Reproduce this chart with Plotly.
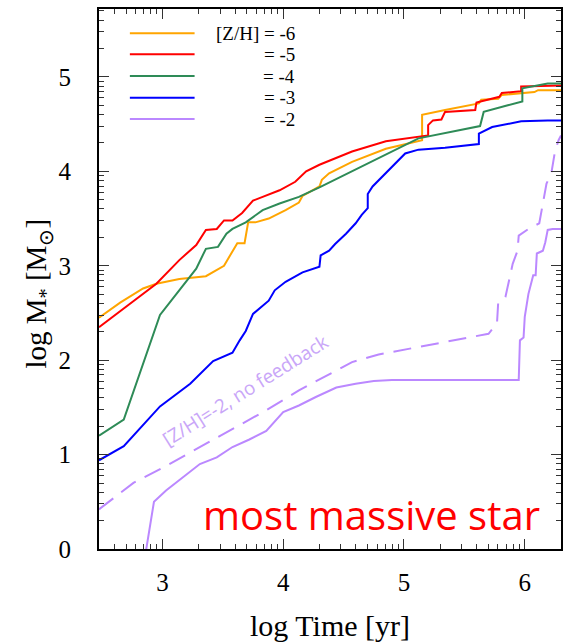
import numpy as np
import plotly.graph_objects as go

# ---------------- data ----------------
labels = ["[Z/H] = -6", "= -5", "= -4", "= -3", "= -2"]
colors = ["#FFA500", "#FF0000", "#2E8B57", "#0000FF", "#BB88FF"]

x_m6 = [2.475, 2.65, 2.84, 2.95, 3.14, 3.36, 3.51, 3.62, 3.68, 3.71, 3.77, 3.88, 4.02, 4.13, 4.16,
        4.30, 4.32, 4.38, 4.57, 4.85, 5.15, 5.15, 5.34, 5.62, 5.64, 5.78, 5.81, 5.97, 6.08, 6.11, 6.30]
y_m6 = [2.45, 2.61, 2.76, 2.81, 2.86, 2.89, 3.00, 3.24, 3.24, 3.46, 3.46, 3.50, 3.59, 3.67, 3.74,
        3.84, 3.91, 3.98, 4.10, 4.24, 4.33, 4.60, 4.65, 4.72, 4.76, 4.77, 4.81, 4.83, 4.84, 4.86, 4.86]

x_m5 = [2.475, 2.95, 3.14, 3.28, 3.36, 3.45, 3.51, 3.58, 3.66, 3.75, 3.83, 3.97, 4.10, 4.19, 4.30,
        4.46, 4.57, 4.85, 5.12, 5.20, 5.20, 5.24, 5.31, 5.34, 5.59, 5.60, 5.79, 5.81, 5.97, 5.97, 6.30]
y_m5 = [2.35, 2.81, 3.06, 3.22, 3.38, 3.39, 3.48, 3.48, 3.56, 3.69, 3.73, 3.80, 3.89, 4.00, 4.07,
        4.15, 4.21, 4.32, 4.37, 4.38, 4.49, 4.54, 4.55, 4.63, 4.65, 4.73, 4.79, 4.83, 4.85, 4.90, 4.91]

x_m4 = [2.475, 2.68, 2.98, 3.28, 3.36, 3.46, 3.53, 3.58, 3.69, 3.83, 3.97, 4.13, 4.30, 4.63, 4.79,
        5.12, 5.63, 5.66, 5.86, 5.98, 5.98, 6.19, 6.30]
y_m4 = [1.20, 1.37, 2.48, 2.97, 3.18, 3.20, 3.34, 3.39, 3.46, 3.59, 3.66, 3.73, 3.83, 4.04, 4.14,
        4.35, 4.48, 4.63, 4.70, 4.74, 4.88, 4.93, 4.93]

x_m3 = [2.475, 2.68, 2.98, 3.23, 3.42, 3.58, 3.64, 3.69, 3.75, 3.88, 3.93, 4.02, 4.16, 4.30, 4.31,
        4.38, 4.43, 4.52, 4.60, 4.65, 4.70, 4.70, 4.74, 4.85, 4.89, 4.96, 5.01, 5.12, 5.34, 5.62,
        5.62, 5.73, 5.97, 6.19, 6.30]
y_m3 = [0.94, 1.09, 1.51, 1.75, 1.99, 2.08, 2.21, 2.31, 2.49, 2.63, 2.74, 2.83, 2.93, 2.99, 3.11,
        3.16, 3.23, 3.34, 3.45, 3.54, 3.61, 3.76, 3.84, 3.98, 4.03, 4.12, 4.19, 4.23, 4.25, 4.29,
        4.40, 4.47, 4.53, 4.54, 4.54]

x_m2 = [2.86, 2.93, 3.03, 3.13, 3.31, 3.45, 3.58, 3.72, 3.86, 4.00, 4.13, 4.27, 4.44, 4.60, 4.75,
        4.90, 5.95, 5.96, 5.99, 6.00, 6.03, 6.07, 6.09, 6.10, 6.15, 6.17, 6.19, 6.23, 6.30]
y_m2 = [-0.05, 0.50, 0.62, 0.72, 0.90, 0.97, 1.08, 1.16, 1.25, 1.45, 1.52, 1.61, 1.71, 1.75, 1.78,
        1.79, 1.79, 2.21, 2.24, 2.46, 2.70, 2.90, 2.90, 3.13, 3.16, 3.25, 3.38, 3.39, 3.39]

x_m2_nofb = [2.475, 2.76, 3.03, 3.31, 3.58, 3.86, 4.13, 4.41, 4.57, 4.79, 5.12, 5.29, 5.70, 5.77,
             5.78, 5.84, 5.90, 5.94, 5.95, 6.03, 6.12, 6.14, 6.18, 6.22, 6.25, 6.28, 6.30]
y_m2_nofb = [0.42, 0.70, 0.88, 1.08, 1.27, 1.47, 1.68, 1.87, 1.98, 2.06, 2.14, 2.18, 2.28, 2.39,
             2.61, 2.67, 3.02, 3.16, 3.32, 3.39, 3.45, 3.59, 3.87, 3.98, 4.21, 4.33, 4.38]

x_major = [3, 4, 5, 6]
x_ticktext = ["3", "4", "5", "6"]
y_major = [0, 1, 2, 3, 4, 5]
y_ticktext = ["0", "1", "2", "3", "4", "5"]

series = [(x_m6, y_m6), (x_m5, y_m5), (x_m4, y_m4), (x_m3, y_m3), (x_m2, y_m2)]

# ---------------- figure ----------------
fig = go.Figure()
for (xs, ys), lab, col in zip(series, labels, colors):
    fig.add_trace(go.Scatter(x=xs, y=ys, mode="lines", name=lab, showlegend=False,
                             line=dict(color=col, width=2)))
fig.add_trace(go.Scatter(x=x_m2_nofb, y=y_m2_nofb, mode="lines", name="[Z/H]=-2, no feedback",
                         showlegend=False, line=dict(color=colors[4], width=2, dash="18px,10px")))

XR = [2.475, 6.3]
YR = [0.0, 5.72]
x_minor = [d + np.log10(k) for d in range(2, 7) for k in range(2, 10)
           if XR[0] < d + np.log10(k) < XR[1]]
y_minor = [d + np.log10(k) for d in range(0, 6) for k in range(2, 10)
           if YR[0] < d + np.log10(k) < YR[1]]

serif = "Liberation Serif, Times New Roman, serif"
axis_common = dict(showline=True, linecolor="black", linewidth=2, mirror="ticks",
                   ticks="inside", ticklen=10, tickwidth=1, tickcolor="#333",
                   showgrid=False, zeroline=False,
                   tickfont=dict(family=serif, size=25, color="black"))

fig.update_xaxes(range=XR, tickmode="array", tickvals=x_major, ticktext=x_ticktext,
                 minor=dict(tickmode="array", tickvals=x_minor, ticks="inside", ticklen=5,
                            tickwidth=1, tickcolor="#333"),
                 ticklabelstandoff=10,
                 title=dict(text="log Time [yr]", font=dict(family=serif, size=30, color="black"),
                            standoff=20),
                 **axis_common)
fig.update_yaxes(range=YR, tickmode="array", tickvals=y_major, ticktext=y_ticktext,
                 minor=dict(tickmode="array", tickvals=y_minor, ticks="inside", ticklen=5,
                            tickwidth=1, tickcolor="#333"),
                 ticklabelstandoff=21,
                 **axis_common)

annotations = []
# y-axis title
annotations.append(dict(text="log M<sub>*</sub> [M<sub>⊙</sub>]", xref="paper", yref="paper",
                        x=-0.131, y=0.474, textangle=-90, showarrow=False,
                        font=dict(family=serif, size=29, color="black"),
                        xanchor="center", yanchor="middle"))
# rotated curve label
annotations.append(dict(text="[Z/H]=-2, no feedback", x=3.69, y=1.68, xref="x", yref="y",
                        textangle=-32, showarrow=False,
                        font=dict(family="Open Sans, sans-serif", size=19, color="#C9A6F8")))
# big red label
annotations.append(dict(text="most massive star", xref="paper", yref="paper",
                        x=(373 - 99) / 464, y=(549 - 514) / 540, showarrow=False,
                        font=dict(family="Open Sans, sans-serif", size=40, color="#FF0000"),
                        xanchor="center", yanchor="middle"))

# custom legend (lines + right-aligned text)
shapes = []
row_px = [33.3, 54.3, 76.0, 97.7, 119.0]
for lab, col, py in zip(labels, colors, row_px):
    yp = (549 - py) / 540
    shapes.append(dict(type="line", xref="paper", yref="paper",
                       x0=(130 - 99) / 464, x1=(195 - 99) / 464, y0=yp, y1=yp,
                       line=dict(color=col, width=2)))
    annotations.append(dict(text=lab, xref="paper", yref="paper", x=(298 - 99) / 464, y=yp,
                            xanchor="right", yanchor="middle", showarrow=False,
                            font=dict(family=serif, size=19, color="black")))

fig.update_layout(width=567, height=642, margin=dict(l=99, r=4, t=9, b=93),
                  plot_bgcolor="white", paper_bgcolor="white",
                  annotations=annotations, shapes=shapes, showlegend=False)

fig.write_html("out.html")
